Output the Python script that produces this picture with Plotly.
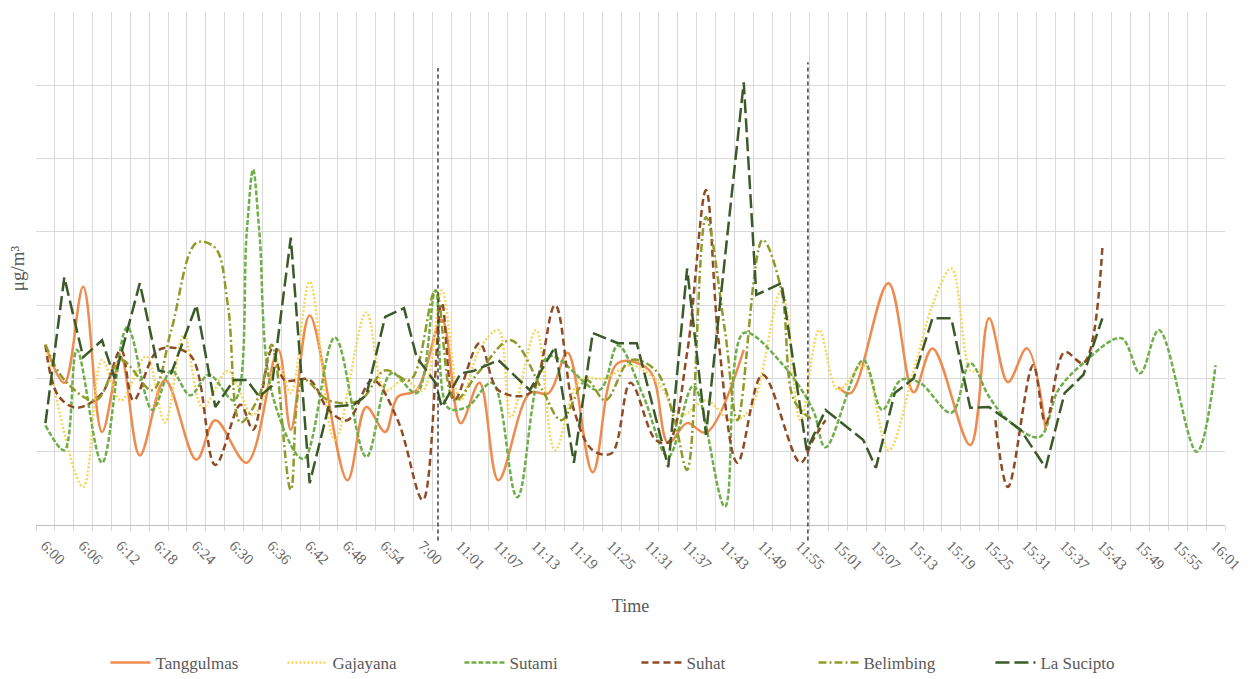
import plotly.graph_objects as go

# ---------------- categories (one per minute slot on the axis) ----------------
SECTION_A = [f"6:{m:02d}" for m in range(60)] + ["7:00"]
SECTION_B = [f"10:{m}" for m in range(56, 60)] + [f"11:{m:02d}" for m in range(60)] + ["12:00"]
SECTION_C = [f"15:{m:02d}" for m in range(1, 60)] + ["16:00", "16:01", "16:02", "16:03"]
CATEGORIES = SECTION_A + SECTION_B + SECTION_C
IDX = {c: i for i, c in enumerate(CATEGORIES)}

TICK_LABELS = ["6:00", "6:06", "6:12", "6:18", "6:24", "6:30", "6:36", "6:42", "6:48", "6:54", "7:00",
               "11:01", "11:07", "11:13", "11:19", "11:25", "11:31", "11:37", "11:43", "11:49", "11:55",
               "15:01", "15:07", "15:13", "15:19", "15:25", "15:31", "15:37", "15:43", "15:49", "15:55", "16:01"]

# ---------------- series (time, value) ----------------
TANGGULMAS_T = ["6:01", "6:04", "6:07", "6:10", "6:13", "6:16", "6:20", "6:25", "6:28", "6:33", "6:38", "6:40",
                "6:43", "6:49", "6:52", "6:55", "6:57", "7:00", "10:59", "11:02", "11:05", "11:08", "11:13",
                "11:16", "11:19", "11:23", "11:27", "11:32", "11:35", "11:38", "11:41", "11:47", "11:55",
                "15:02", "15:04", "15:10", "15:14", "15:17", "15:23", "15:26", "15:29", "15:32", "15:35"]
TANGGULMAS_V = [24.6, 19.4, 32.5, 12.7, 22.9, 9.5, 19.8, 8.9, 14.3, 8.5, 23.9, 13.0,
                28.6, 6.1, 16.1, 12.7, 17.5, 18.4, 28.0, 13.9, 19.4, 6.1, 18.0,
                18.0, 23.5, 7.2, 22.1, 21.1, 11.2, 13.9, 12.6, 23.9, None,
                18.8, 18.0, 33.0, 18.1, 24.1, 10.9, 28.2, 19.5, 24.1, 13.0]

GAJAYANA_T = ["6:01", "6:07", "6:10", "6:13", "6:17", "6:20", "6:23", "6:26", "6:30", "6:34", "6:38", "6:40",
              "6:43", "6:47", "6:52", "6:55", "6:58", "10:56", "10:59", "11:02", "11:05", "11:08", "11:10",
              "11:14", "11:17", "11:21", "11:25", "11:29", "11:33", "11:37", "11:41", "11:45", "11:48",
              "11:53", "11:56", "11:59", "15:02", "15:06", "15:10", "15:14", "15:17", "15:20", "15:23", "15:24"]
GAJAYANA_V = [24.6, 5.2, 22.5, 17.0, 23.0, 14.0, 26.0, 16.0, 21.0, 15.0, 22.0, 18.0,
              33.2, 11.6, 29.0, 18.4, 19.8, 18.4, 32.0, 17.0, 24.0, 26.6, 14.7,
              26.6, 10.2, 19.8, 20.0, 21.8, 19.8, 15.0, 17.0, 14.3, 15.7,
              32.0, 14.3, 26.6, 18.4, 21.8, 10.2, 21.0, 30.0, 35.0, 21.1, 21.0]

SUTAMI_T = ["6:01", "6:04", "6:06", "6:10", "6:14", "6:18", "6:21", "6:24", "6:27", "6:31", "6:33", "6:34",
            "6:35", "6:37", "6:42", "6:47", "6:52", "6:56", "7:00", "10:58", "11:00", "11:03", "11:07",
            "11:11", "11:16", "11:24", "11:27", "11:31", "11:35", "11:39", "11:44", "11:47", "11:53",
            "11:58", "12:00", "15:06", "15:09", "15:12", "15:15", "15:20", "15:23", "15:26", "15:29",
            "15:34", "15:37", "15:41", "15:47", "15:50", "15:53", "15:59", "16:02"]
SUTAMI_V = [13.6, 10.2, 23.9, 8.5, 27.0, 15.7, 21.1, 17.7, 20.5, 17.0, 40.0, 48.5,
            40.0, 18.0, 9.0, 25.6, 9.3, 20.7, 18.0, 32.0, 16.0, 16.1, 19.4,
            3.8, 23.0, 18.4, 24.5, 17.7, 9.3, 19.0, 2.5, 26.2, 22.1,
            15.7, 10.6, 22.5, 15.7, 19.8, 19.4, 15.3, 22.1, 17.5, 14.3,
            12.0, 18.4, 22.1, 25.5, 20.7, 26.6, 10.0, 21.8]

SUHAT_T = ["6:01", "6:03", "6:06", "6:10", "6:13", "6:15", "6:19", "6:24", "6:28", "6:32", "6:34", "6:37",
           "6:39", "6:43", "6:46", "6:49", "6:53", "6:57", "10:56", "10:59", "11:01", "11:05", "11:08",
           "11:13", "11:17", "11:20", "11:23", "11:26", "11:29", "11:33", "11:35", "11:38", "11:41",
           "11:43", "11:46", "11:50", "11:56", "11:58", "12:00", "15:10",
           "15:27", "15:29", "15:33", "15:35", "15:38", "15:41", "15:44"]
SUHAT_V = [24.6, 17.7, 16.0, 18.0, 23.9, 17.0, 23.9, 23.2, 8.2, 16.4, 13.0, 23.9,
           19.8, 19.8, 15.7, 14.3, 19.8, 14.3, 3.4, 30.3, 17.0, 24.8, 18.4,
           18.0, 30.0, 15.7, 10.2, 9.8, 19.4, 11.6, 11.3, 23.5, 45.7,
           25.2, 8.5, 20.5, 8.5, 11.6, 14.3, None,
           14.3, 5.2, 21.8, 13.9, 23.6, 22.1, 37.8]

BELIMBING_T = ["6:01", "6:04", "6:09", "6:13", "6:18", "6:21", "6:25", "6:28", "6:30", "6:32", "6:35", "6:37",
               "6:40", "6:42", "6:46", "6:51", "6:55", "6:59", "10:58", "11:01", "11:05", "11:10", "11:15",
               "11:18", "11:22", "11:25", "11:29", "11:33", "11:36", "11:38", "11:41", "11:44", "11:46",
               "11:50", "11:53", "11:55", "11:58"]
BELIMBING_V = [24.6, 19.8, 17.0, 22.5, 18.4, 26.6, 38.5, 37.8, 30.0, 14.0, 17.7, 24.6,
               4.8, 19.8, 17.0, 17.0, 21.1, 19.8, 32.0, 17.0, 21.0, 25.2, 18.4,
               14.3, 19.8, 17.0, 22.5, 21.1, 14.3, 7.5, 42.0, 26.6, 14.3,
               38.9, 32.0, 17.0, 14.3]

LA_SUCIPTO_T = ["6:01", "6:04", "6:07", "6:10", "6:12", "6:16", "6:19", "6:21", "6:25", "6:28", "6:31", "6:33",
                "6:35", "6:37", "6:40", "6:43", "6:46", "6:50", "6:52", "6:55", "6:58", "7:00", "10:58",
                "10:59", "11:02", "11:04", "11:08", "11:13", "11:17", "11:20", "11:23", "11:27", "11:30",
                "11:35", "11:38", "11:41", "11:47", "11:49", "11:53", "11:57", "12:00", "15:06", "15:08",
                "15:11", "15:14", "15:17", "15:20", "15:23", "15:26", "15:31", "15:35", "15:38", "15:41", "15:44"]
LA_SUCIPTO_V = [13.9, 33.8, 22.9, 25.2, 20.0, 33.0, 21.1, 20.7, 30.0, 16.1, 19.8, 19.8,
                17.5, 19.0, 39.2, 5.7, 16.1, 16.4, 17.7, 28.4, 29.6, 22.9, 19.4,
                16.1, 20.7, 21.0, 22.5, 18.4, 24.3, 8.5, 26.2, 24.8, 24.8,
                7.9, 35.0, 12.3, 60.4, 31.4, 33.0, 10.2, 15.7, 11.6, 7.8,
                18.0, 20.0, 28.2, 28.2, 16.0, 16.1, 13.0, 7.8, 18.0, 20.5, 28.2]

SEPARATORS = [63.4, 122.2]  # positions of the two dotted section dividers (category units)

SERIES = [
    ("Tanggulmas", TANGGULMAS_T, TANGGULMAS_V, "#EE8C4F", "solid", "spline"),
    ("Gajayana", GAJAYANA_T, GAJAYANA_V, "#F7D45C", "2px,2px", "spline"),
    ("Sutami", SUTAMI_T, SUTAMI_V, "#6FAE4A", "5px,2px", "spline"),
    ("Suhat", SUHAT_T, SUHAT_V, "#8E4B24", "7px,4px", "spline"),
    ("Belimbing", BELIMBING_T, BELIMBING_V, "#8F9A2A", "8px,3px,2px,3px", "spline"),
    ("La Sucipto", LA_SUCIPTO_T, LA_SUCIPTO_V, "#3B5A27", "14px,5px", "linear"),
]

FONT = "Liberation Serif"
TXT = "#595959"

fig = go.Figure()
for name, times, vals, color, dash, shape in SERIES:
    line = dict(color=color, width=2.5, dash=dash, shape=shape)
    if shape == "spline":
        line["smoothing"] = 1.0
    fig.add_trace(go.Scatter(
        x=[IDX[t] for t in times], y=vals, name=name, mode="lines",
        line=line, connectgaps=False,
    ))

for xs, ytop in zip(SEPARATORS, [0.891, 0.902]):
    fig.add_shape(type="line", xref="x", yref="paper", x0=xs, x1=xs, y0=-0.03, y1=ytop,
                  line=dict(color="#333333", width=1.4, dash="4px,3px"))

fig.update_layout(
    width=1260, height=679,
    margin=dict(l=36, r=35, t=12, b=154, autoexpand=False),
    paper_bgcolor="white", plot_bgcolor="white",
    font=dict(family=FONT, color=TXT, size=14),
    showlegend=True,
    legend=dict(orientation="h", x=0.505, xanchor="center", y=-0.269, yanchor="middle",
                font=dict(family=FONT, size=17, color=TXT),
                entrywidth=122, entrywidthmode="pixels", itemwidth=40),
)

fig.update_xaxes(
    automargin=False,
    range=[-0.5, len(CATEGORIES) - 0.5],
    tickmode="array",
    tickvals=[IDX[t] for t in TICK_LABELS],
    ticktext=TICK_LABELS,
    tickangle=45,
    ticklabelshift=6, ticklabelstandoff=5,
    tickfont=dict(family=FONT, size=15, color="#666666"),
    showgrid=False, ticks="",
    minor=dict(tick0=-0.5, dtick=3, showgrid=True, gridcolor="#d9d9d9", gridwidth=1,
               ticks="outside", ticklen=5, tickcolor="#d9d9d9"),
    showline=True, linecolor="#bfbfbf", linewidth=1,
    zeroline=False,
    title=dict(text="Time", font=dict(family=FONT, size=18, color=TXT), standoff=26),
)
fig.update_yaxes(
    automargin=False,
    range=[0, 70], dtick=10, showgrid=True, gridcolor="#d9d9d9", gridwidth=1,
    showticklabels=False, ticks="", zeroline=False, showline=False,
    title=dict(text="μg/m³", font=dict(family=FONT, size=19, color=TXT), standoff=5),
)

fig.write_html("out.html")
